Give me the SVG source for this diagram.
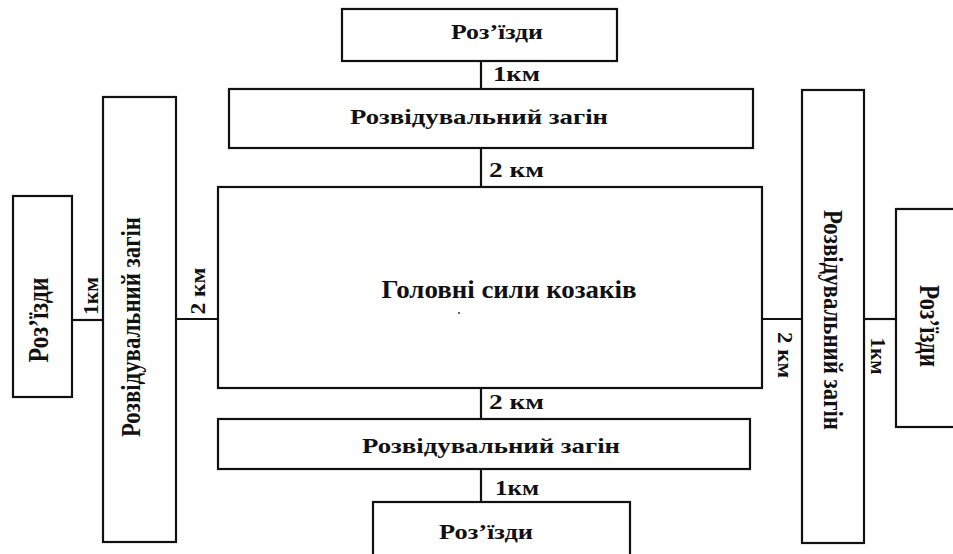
<svg xmlns="http://www.w3.org/2000/svg" width="953" height="554" viewBox="0 0 953 554">
<style>
.box{fill:#fff;stroke:#111;stroke-width:2.2}
.ln{stroke:#111;stroke-width:2.2;fill:none}
text{font-family:"Liberation Serif","Times New Roman",serif;font-weight:bold;fill:#111}
.c{text-anchor:middle}
.s{text-anchor:start}
</style>
<rect width="953" height="554" fill="#fff"/>
<g id="connectors">
<line class="ln" x1="481" y1="61" x2="481" y2="89"/>
<line class="ln" x1="481" y1="148" x2="481" y2="187"/>
<line class="ln" x1="481" y1="388" x2="481" y2="419"/>
<line class="ln" x1="481" y1="469" x2="481" y2="502"/>
<line class="ln" x1="72" y1="320" x2="103" y2="320"/>
<line class="ln" x1="176" y1="319" x2="218" y2="319"/>
<line class="ln" x1="762" y1="319" x2="802" y2="319"/>
<line class="ln" x1="864" y1="319" x2="896" y2="319"/>
<text class="s" x="493" y="81" font-size="20" textLength="47" lengthAdjust="spacingAndGlyphs">1км</text>
<text class="s" x="489" y="177" font-size="20" textLength="55" lengthAdjust="spacingAndGlyphs">2 км</text>
<text class="s" x="489" y="409" font-size="20" textLength="55" lengthAdjust="spacingAndGlyphs">2 км</text>
<text class="s" x="495" y="495" font-size="20" textLength="44" lengthAdjust="spacingAndGlyphs">1км</text>
<text class="c" transform="translate(91,296) rotate(-90)" x="0" y="7" font-size="21" textLength="38" lengthAdjust="spacingAndGlyphs">1км</text>
<text class="c" transform="translate(198,291) rotate(-90)" x="0" y="7" font-size="21" textLength="47" lengthAdjust="spacingAndGlyphs">2 км</text>
<text class="c" transform="translate(785,355) rotate(90)" x="0" y="7" font-size="21" textLength="46" lengthAdjust="spacingAndGlyphs">2 км</text>
<text class="c" transform="translate(878,356) rotate(90)" x="0" y="7" font-size="21" textLength="37" lengthAdjust="spacingAndGlyphs">1км</text>
</g>
<g id="roz-top">
<rect class="box" x="342" y="9" width="275" height="52"/>
<text class="c" x="497" y="39" font-size="21" textLength="92" lengthAdjust="spacingAndGlyphs">Роз’їзди</text>
</g>
<g id="rz-top">
<rect class="box" x="229" y="89" width="524" height="59"/>
<text class="c" x="479" y="124" font-size="21" textLength="258" lengthAdjust="spacingAndGlyphs">Розвідувальний загін</text>
</g>
<g id="main">
<rect class="box" x="218" y="187" width="544" height="201"/>
<text class="c" x="509" y="298" font-size="25" textLength="255" lengthAdjust="spacingAndGlyphs">Головні сили козаків</text>
<circle cx="459" cy="313" r="1" fill="#333"/>
</g>
<g id="rz-bottom">
<rect class="box" x="218" y="419" width="532" height="50"/>
<text class="c" x="491" y="453" font-size="21" textLength="258" lengthAdjust="spacingAndGlyphs">Розвідувальний загін</text>
</g>
<g id="roz-bottom">
<rect class="box" x="373" y="502" width="257" height="60"/>
<text class="c" x="486" y="539" font-size="21" textLength="94" lengthAdjust="spacingAndGlyphs">Роз’їзди</text>
</g>
<g id="roz-left">
<rect class="box" x="13" y="196" width="59" height="201"/>
<text class="c" transform="translate(38,320) rotate(-90)" x="0" y="10" font-size="30" textLength="85" lengthAdjust="spacingAndGlyphs">Роз’їзди</text>
</g>
<g id="rz-left">
<rect class="box" x="103" y="97" width="73" height="445"/>
<text class="c" transform="translate(131,327) rotate(-90)" x="0" y="9" font-size="27" textLength="220" lengthAdjust="spacingAndGlyphs">Розвідувальний загін</text>
</g>
<g id="rz-right">
<rect class="box" x="802" y="90" width="62" height="453"/>
<text class="c" transform="translate(833,320) rotate(90)" x="0" y="9" font-size="27" textLength="220" lengthAdjust="spacingAndGlyphs">Розвідувальний загін</text>
</g>
<g id="roz-right">
<rect class="box" x="896" y="209" width="70" height="218"/>
<text class="c" transform="translate(930,326) rotate(90)" x="0" y="10" font-size="29" textLength="82" lengthAdjust="spacingAndGlyphs">Роз’їзди</text>
</g>
</svg>
